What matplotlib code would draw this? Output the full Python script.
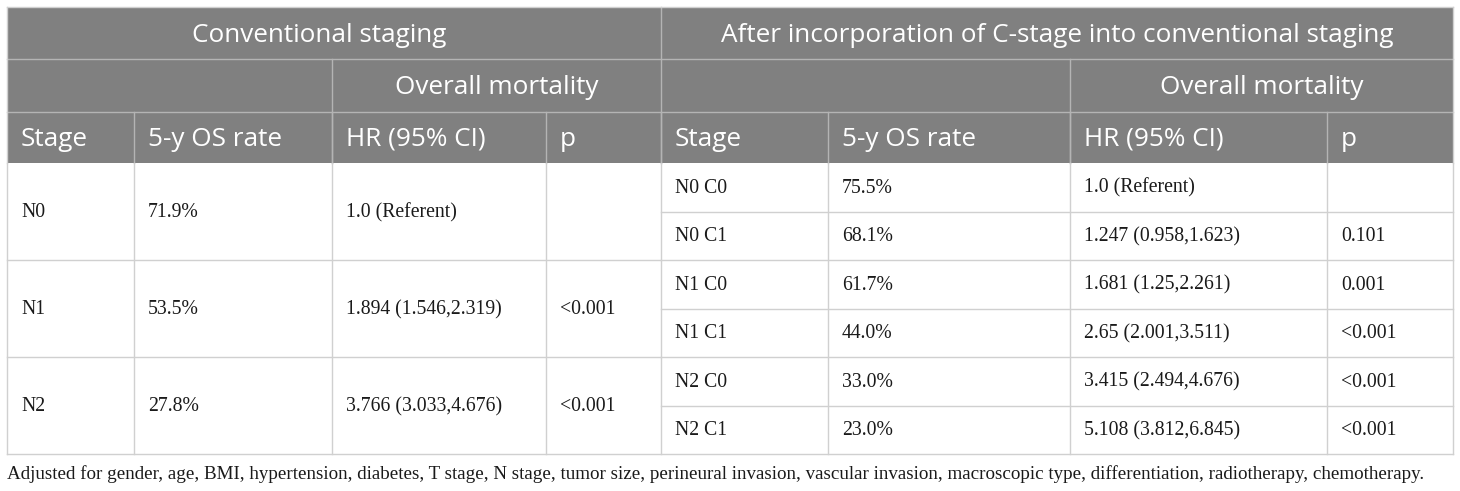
import matplotlib
matplotlib.use("Agg")
import matplotlib.pyplot as plt
from matplotlib.patches import Rectangle

# ---- data ----
group_titles = ["Conventional staging", "After incorporation of C-stage into conventional staging"]
sub_title = "Overall mortality"
col_headers = ["Stage", "5-y OS rate", "HR (95% CI)", "p"]

stages_conv = ["N0", "N1", "N2"]
os_conv = ["71.9%", "53.5%", "27.8%"]
hr_conv = ["1.0 (Referent)", "1.894 (1.546,2.319)", "3.766 (3.033,4.676)"]
p_conv = ["", "<0.001", "<0.001"]

stages_c = ["N0 C0", "N0 C1", "N1 C0", "N1 C1", "N2 C0", "N2 C1"]
os_c = ["75.5%", "68.1%", "61.7%", "44.0%", "33.0%", "23.0%"]
hr_c = ["1.0 (Referent)", "1.247 (0.958,1.623)", "1.681 (1.25,2.261)",
        "2.65 (2.001,3.511)", "3.415 (2.494,4.676)", "5.108 (3.812,6.845)"]
p_c = ["", "0.101", "0.001", "<0.001", "<0.001", "<0.001"]

footnote = ("Adjusted for gender, age, BMI, hypertension, diabetes, T stage, N stage, tumor size, "
            "perineural invasion, vascular invasion, macroscopic type, differentiation, radiotherapy, chemotherapy.")

# ---- layout (pixels) ----
W, H = 1460, 491
fig = plt.figure(figsize=(W / 100, H / 100), dpi=100)
ax = fig.add_axes([0, 0, 1, 1])
ax.set_xlim(0, W)
ax.set_ylim(H, 0)
ax.axis("off")

xs = [7, 134, 332, 546, 661, 828, 1070, 1327, 1453]
hy = [7, 59, 112, 163]
body_top, body_bot = 163, 454
nsub = len(stages_c)
rh = (body_bot - body_top) / nsub
by = [body_top + i * rh for i in range(nsub + 1)]

HEAD_BG = "#808080"
HEAD_LINE = "#b4b4b4"
BODY_LINE = "#d0d0d0"
TXT = "#1a1a1a"
hfont = dict(family=["Open Sans", "DejaVu Sans"], color="white", fontsize=18.8)
bfont = dict(family=["Liberation Serif", "DejaVu Serif"], color=TXT, fontsize=14.2)
ffont = dict(family=["Liberation Serif", "DejaVu Serif"], color=TXT, fontsize=13.65)
pad = 14

# header background
ax.add_patch(Rectangle((xs[0], hy[0]), xs[-1] - xs[0], hy[3] - hy[0],
                       facecolor=HEAD_BG, edgecolor="none", zorder=0))

# header lines
lw = 1.0
for y in hy[1:3]:
    ax.plot([xs[0], xs[-1]], [y, y], color=HEAD_LINE, lw=lw, zorder=2)
ax.plot([xs[4], xs[4]], [hy[0], hy[3]], color=HEAD_LINE, lw=lw, zorder=2)
for x in (xs[2], xs[6]):
    ax.plot([x, x], [hy[1], hy[3]], color=HEAD_LINE, lw=lw, zorder=2)
for x in xs[1:-1]:
    ax.plot([x, x], [hy[2], hy[3]], color=HEAD_LINE, lw=lw, zorder=2)

# header texts
ax.text((xs[0] + xs[4]) / 2 - 15, (hy[0] + hy[1]) / 2 + 2, group_titles[0], ha="center", va="center", **hfont)
ax.text((xs[4] + xs[8]) / 2, (hy[0] + hy[1]) / 2 + 2, group_titles[1], ha="center", va="center", **hfont)
ax.text((xs[2] + xs[4]) / 2, (hy[1] + hy[2]) / 2 + 2, sub_title, ha="center", va="center", **hfont)
ax.text((xs[6] + xs[8]) / 2, (hy[1] + hy[2]) / 2 + 2, sub_title, ha="center", va="center", **hfont)
for i in range(8):
    ax.text(xs[i] + pad, (hy[2] + hy[3]) / 2 + 2, col_headers[i % 4], ha="left", va="center", **hfont)

# body lines
ax.plot([xs[0], xs[-1]], [body_bot, body_bot], color=BODY_LINE, lw=lw, zorder=2)
for x in xs:
    ax.plot([x, x], [body_top, body_bot], color=BODY_LINE, lw=lw, zorder=2)
ax.plot([xs[0], xs[0]], [hy[0], hy[3]], color=BODY_LINE, lw=lw, zorder=2)
ax.plot([xs[-1], xs[-1]], [hy[0], hy[3]], color=BODY_LINE, lw=lw, zorder=2)
ax.plot([xs[0], xs[-1]], [hy[0], hy[0]], color=BODY_LINE, lw=lw, zorder=2)
for k in range(1, len(stages_conv)):
    y = by[2 * k]
    ax.plot([xs[0], xs[4]], [y, y], color=BODY_LINE, lw=lw, zorder=2)
for k in range(1, nsub):
    ax.plot([xs[4], xs[8]], [by[k], by[k]], color=BODY_LINE, lw=lw, zorder=2)

# body texts
for k in range(len(stages_conv)):
    yc = (by[2 * k] + by[2 * k + 2]) / 2 + 1
    for j, col in enumerate((stages_conv, os_conv, hr_conv, p_conv)):
        ax.text(xs[j] + pad, yc, col[k], ha="left", va="center", **bfont)
for k in range(nsub):
    yc = (by[k] + by[k + 1]) / 2 + 1
    for j, col in enumerate((stages_c, os_c, hr_c, p_c)):
        ax.text(xs[4 + j] + pad, yc, col[k], ha="left", va="center", **bfont)

ax.text(xs[0], 474, footnote, ha="left", va="center", **ffont)

fig.savefig("out.png", dpi=100)
